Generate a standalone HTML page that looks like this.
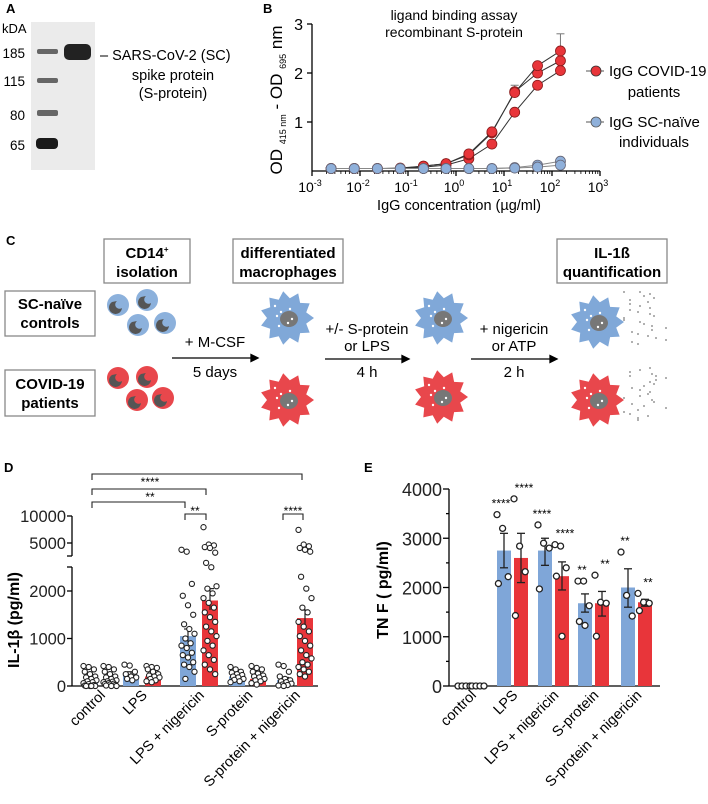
<!DOCTYPE html>
<html><head><meta charset="utf-8"><style>
body{margin:0;background:#fff}
svg{display:block;font-family:"Liberation Sans",Arial,sans-serif}
</style></head><body>
<svg id="fig" width="708" height="804" viewBox="0 0 708 804">
<!-- Panel A -->
<g>
<text x="6" y="13" font-size="13" font-weight="bold">A</text>
<text x="2" y="33" font-size="13">kDA</text>
<rect x="31" y="22" width="64" height="148" fill="#ebebeb"/>
<g fill="#666">
<rect x="37" y="49" width="21" height="5" rx="2"/><rect x="37" y="78" width="21" height="5" rx="2"/>
<rect x="37" y="110" width="21" height="6" rx="2"/><rect x="36" y="138" width="22" height="11" rx="4" fill="#1a1a1a"/>
</g>
<rect x="64" y="44" width="27" height="16" rx="5" fill="#222"/>
<g font-size="13.5" text-anchor="end">
<text x="25" y="58">185</text><text x="25" y="86">115</text><text x="25" y="120">80</text><text x="25" y="150">65</text></g>
<text x="100" y="60" font-size="14.5">– SARS-CoV-2 (SC)</text>
<text x="173" y="80" font-size="14.5" text-anchor="middle">spike protein</text>
<text x="173" y="98" font-size="14.5" text-anchor="middle">(S-protein)</text>
</g>
<g id="panelB">
<text x="263" y="13" font-size="13" font-weight="bold">B</text>
<text x="454" y="20" font-size="14" text-anchor="middle">ligand binding assay</text>
<text x="454" y="37" font-size="14" text-anchor="middle">recombinant S-protein</text>
<text transform="translate(282,100) rotate(-90)" font-size="17" text-anchor="middle">OD <tspan font-size="9" dy="4">415 nm</tspan><tspan dy="-4"> - OD </tspan><tspan font-size="9" dy="4">695</tspan><tspan dy="-4"> nm</tspan></text>
<text x="459" y="210" font-size="14.5" text-anchor="middle">IgG concentration (µg/ml)</text>
<g>
<line x1="586" y1="71" x2="604" y2="71" stroke="#555"/><circle cx="596" cy="71" r="5" fill="#e8353a" stroke="#333" stroke-width="0.8"/>
<text x="609" y="76" font-size="15">IgG COVID-19</text><text x="654" y="97" font-size="15" text-anchor="middle">patients</text>
<line x1="586" y1="122" x2="604" y2="122" stroke="#555"/><circle cx="596" cy="122" r="5" fill="#8fb0da" stroke="#555" stroke-width="0.8"/>
<text x="609" y="127" font-size="15">IgG SC-naïve</text><text x="654" y="147" font-size="15" text-anchor="middle">individuals</text>
</g>
</g>
<!-- Panel C -->
<g id="panelC">
<text x="6" y="245" font-size="13" font-weight="bold">C</text>
<g fill="#fff" stroke="#888" stroke-width="1.3">
<rect x="104" y="239" width="86" height="44"/>
<rect x="233" y="239" width="110" height="44"/>
<rect x="557" y="239" width="110" height="44"/>
<rect x="5" y="291" width="90" height="45"/>
<rect x="5" y="370" width="90" height="46"/>
</g>
<g font-size="15" font-weight="bold" text-anchor="middle">
<text x="147" y="258">CD14<tspan font-size="8" dy="-6">+</tspan></text><text x="147" y="277">isolation</text>
<text x="288" y="258">differentiated</text><text x="288" y="277">macrophages</text>
<text x="612" y="258">IL-1ß</text><text x="612" y="277">quantification</text>
<text x="50" y="309">SC-naïve</text><text x="50" y="328">controls</text>
<text x="50" y="389">COVID-19</text><text x="50" y="408">patients</text>
</g>
<g stroke="#000" stroke-width="1.3" fill="#000">
<line x1="172" y1="358" x2="253" y2="358"/><path d="M258 358l-7 -3.5v7z"/>
<line x1="325" y1="359" x2="404" y2="359"/><path d="M409 359l-7 -3.5v7z"/>
<line x1="471" y1="359" x2="552" y2="359"/><path d="M557 359l-7 -3.5v7z"/>
</g>
<g font-size="15" text-anchor="middle">
<text x="215" y="347">+ M-CSF</text><text x="215" y="377">5 days</text>
<text x="367" y="334">+/- S-protein</text><text x="367" y="351">or LPS</text><text x="367" y="377">4 h</text>
<text x="514" y="334">+ nigericin</text><text x="514" y="351">or ATP</text><text x="514" y="377">2 h</text>
</g>
<g id="cells"></g>
</g>
<!-- Panel D -->
<g id="panelD">
<text x="4" y="472" font-size="13" font-weight="bold">D</text>
<text transform="translate(19,620) rotate(-90)" font-size="16" font-weight="bold" text-anchor="middle">IL-1β (pg/ml)</text>
</g>
<g id="panelE">
<text x="364" y="472" font-size="13" font-weight="bold">E</text>
<text transform="translate(388,590) rotate(-90)" font-size="16" font-weight="bold" text-anchor="middle">TN F ( pg/ml)</text>
</g>
</svg>
<script>
const NS="http://www.w3.org/2000/svg";
function mk(p,t,a){const e=document.createElementNS(NS,t);for(const k in a)e.setAttribute(k,a[k]);p.appendChild(e);return e;}
const BLUE="#7fa6d8",RED="#e8353a";

// ---------- Panel B data ----------
const concB=[0.0025,0.0076,0.023,0.069,0.21,0.62,1.85,5.6,16.7,50,150];
const covid1=[0.05,0.05,0.05,0.06,0.1,0.15,0.35,0.8,1.6,2.15,2.45];
const covid2=[0.05,0.05,0.05,0.05,0.1,0.15,0.33,0.78,1.62,2.0,2.25];
const covid3=[0.05,0.05,0.05,0.05,0.08,0.12,0.25,0.55,1.2,1.75,2.05];
const naive1=[0.05,0.05,0.05,0.05,0.05,0.05,0.05,0.05,0.07,0.12,0.2];
const naive2=[0.05,0.05,0.05,0.05,0.05,0.05,0.05,0.05,0.06,0.08,0.12];
const errTop=[0,0,0,0,0,0,0,0,1.75,2.2,2.8];
const xTicksB=[-3,-2,-1,0,1,2,3];
const yTicksB=[1,2,3];
(function(){
 const g=document.getElementById('panelB');
 const x=v=>312+(Math.log10(v)+3)*48, y=v=>171-v*49;
 const ax=mk(g,'g',{stroke:'#000','stroke-width':1.3});
 
 mk(ax,'line',{x1:312,y1:171,x2:600,y2:171});mk(ax,'line',{x1:312,y1:24,x2:312,y2:171});
 yTicksB.forEach(t=>{mk(ax,'line',{x1:307,y1:y(t),x2:312,y2:y(t)});
  const tx=mk(g,'text',{x:303,y:y(t)+6,'font-size':16,'text-anchor':'end'});tx.textContent=t;
  });
 xTicksB.forEach(t=>{const px=312+(t+3)*48;mk(ax,'line',{x1:px,y1:171,x2:px,y2:176});
  for(let m=2;m<10&&t<3;m++){const q=312+(t+3+Math.log10(m))*48;mk(ax,'line',{x1:q,y1:171,x2:q,y2:174,'stroke-width':0.8});}
  const tx=mk(g,'text',{x:px-2,y:192,'font-size':14,'text-anchor':'middle'});
  tx.innerHTML='10<tspan font-size="9" dy="-6">'+t+'</tspan>';
  });
 const series=[[covid3,RED,'covid-3'],[covid2,RED,'covid-2'],[covid1,RED,'covid-1'],[naive1,BLUE,'naive-1'],[naive2,BLUE,'naive-2']];
 concB.forEach((c,i)=>{if(errTop[i]>0){const l=mk(g,'line',{x1:x(c),x2:x(c),y1:y(errTop[i]),y2:y(covid1[i]),stroke:'#777','stroke-width':1});
   
   mk(g,'line',{x1:x(c)-4,x2:x(c)+4,y1:y(errTop[i]),y2:y(errTop[i]),stroke:'#777'});}});
 series.forEach(([d,col,n])=>{
  const p=mk(g,'polyline',{points:concB.map((c,i)=>x(c)+','+y(d[i])).join(' '),fill:'none',stroke:col==RED?'#333':'#888','stroke-width':1});
  
  d.forEach((v,i)=>{const c=mk(g,'circle',{cx:x(concB[i]),cy:y(v),r:5,fill:col==RED?RED:'#8fb0da',stroke:col==RED?'#8a1a1a':'#667',"stroke-width":0.8});
   });
 });
})();

// ---------- Panel C cells (decorative) ----------
(function(){
 const g=document.getElementById('cells');
 function mono(cx,cy,col){const c=mk(g,'circle',{cx,cy,r:11,fill:col});
  mk(g,'path',{d:`M${cx-6} ${cy-3}a6.5 6.5 0 1 0 10 6a4 4 0 1 1 -5 -7z`,fill:'#555'});}
 [[118,305],[147,300],[138,325],[165,323]].forEach(p=>mono(p[0],p[1],'#8cb1dc'));
 [[118,378],[147,377],[137,400],[163,398]].forEach(p=>mono(p[0],p[1],'#e8474c'));
 function mac(cx,cy,col){let d='';const n=11;for(let i=0;i<2*n;i++){const a=i*Math.PI/n,r=i%2?20:27;d+=(i?'L':'M')+(cx+r*Math.cos(a)).toFixed(1)+' '+(cy+r*Math.sin(a)).toFixed(1);}
  const p=mk(g,'path',{d:d+'Z',fill:col,'stroke-linejoin':'round'});
  mk(g,'ellipse',{cx:cx+2,cy:cy+1,rx:9,ry:8,fill:'#777'});
  for(let i=0;i<7;i++){mk(g,'circle',{cx:cx-12+((i*13)%24),cy:cy-12+((i*17)%24),r:1.2,fill:'#fff'});}}
 [[287,318],[441,318],[597,322]].forEach(p=>mac(p[0],p[1],'#80a8d8'));
 [[287,400],[441,397],[597,400]].forEach(p=>mac(p[0],p[1],'#e8474c'));
 for(let i=0;i<56;i++){mk(g,'circle',{cx:624+((i*137+i*i*7)%46),cy:(i<28?292:368)+((i*59+i*i*3)%54),r:1,fill:'#999'});}
})();

// ---------- Panel D data ----------
const catsD=['control','LPS','LPS + nigericin','S-protein','S-protein + nigericin'];
const barD_blue=[60,230,1050,200,130];
const barD_red=[70,200,1800,150,1430];
const errD_blue=[[20,110],[170,300],[900,1200],[170,240],[80,180]];
const errD_red=[[40,100],[170,240],[1600,2050],[120,190],[1250,1600]];
const ptsD_blue=[
 [420,400,350,300,250,200,180,150,120,100,80,60,40,20,10,0,0,0,0],
 [450,430,300,250,200,180,150,120],
 [4200,4000,2150,1900,1700,1500,1300,1200,1100,1000,900,850,800,700,650,600,500,450,400,300,150],
 [400,350,300,280,250,230,200,180,150,130,100,80],
 [450,420,300,200,150,120,100,80,50,30,20,10,0]];
const ptsD_red=[
 [420,400,350,300,250,200,180,150,120,100,90,80,60,50,40,30,20,10,0,0],
 [420,400,380,350,300,250,220,200,180,150,120,100,80],
 [7500,4800,4700,4500,4400,3900,3000,2500,2100,2050,1950,1850,1750,1650,1550,1450,1350,1250,1150,1050,950,850,750,650,550,450,350,250],
 [420,380,350,300,260,220,200,180,150,120,100,60,30],
 [7000,4800,4600,4400,4200,4000,2300,2050,1850,1650,1550,1350,1250,1150,1050,950,850,750,650,580,500,450,400,350,300,250,200]];
const yTicksD=[0,1000,2000];
const yTicksDUpper=[5000,10000];
(function(){
 const g=document.getElementById('panelD');
 const y=v=>v<=2500?686-v*0.0475:(556-(Math.log10(v)-3.554)*89.7);
 const xb=[90,131,188,237,285],xr=[110,153,210,258,305];
 const ax=mk(g,'g',{stroke:'#000','stroke-width':1.3});
 
 mk(ax,'line',{x1:72,y1:686,x2:318,y2:686});mk(ax,'line',{x1:72,y1:567,x2:72,y2:686});mk(ax,'line',{x1:72,y1:516,x2:72,y2:556});
 mk(ax,'line',{x1:67,y1:556,x2:72,y2:556});mk(ax,'line',{x1:67,y1:567,x2:72,y2:567});
 yTicksD.concat(yTicksDUpper).forEach(t=>{mk(ax,'line',{x1:67,y1:y(t),x2:72,y2:y(t)});
  const tx=mk(g,'text',{x:66,y:y(t)+6,'font-size':16.5,'text-anchor':'end',fill:'#222'});tx.textContent=t;
  });
 function bars(vals,errs,pts,xs,col,n){vals.forEach((v,i)=>{
  const r=mk(g,'rect',{x:xs[i]-8,y:y(v),width:16,height:686-y(v),fill:col});
  
  const e=errs[i];mk(g,'line',{x1:xs[i],x2:xs[i],y1:y(e[1]),y2:y(e[0]),stroke:'#222','stroke-width':1.2});
  mk(g,'line',{x1:xs[i]-4,x2:xs[i]+4,y1:y(e[1]),y2:y(e[1]),stroke:'#222','stroke-width':1.2});
  pts[i].forEach((p,j)=>{const c=mk(g,'circle',{cx:xs[i]+((j*37)%11-5)*1.3,cy:y(p),r:2.6,fill:'#fff',stroke:'#222','stroke-width':1.1});
   });});}
 bars(barD_blue,errD_blue,ptsD_blue,xb,BLUE,'naive');
 bars(barD_red,errD_red,ptsD_red,xr,RED,'covid');
 catsD.forEach((c,i)=>{const tx=mk(g,'text',{transform:`translate(${(xb[i]+xr[i])/2+6},696) rotate(-45)`,'font-size':14.5,'text-anchor':'end'});tx.textContent=c;
  });
 const br=[[92,302,474],[92,206,489],[92,185,502],[185,206,514],[283,303,514]];
 const labs=[[150,482,'****'],[150,497,'**'],[195,511,'**'],[293,511,'****']];
 br.forEach(b=>{const p=mk(g,'path',{d:`M${b[0]} ${b[2]+6}V${b[2]}H${b[1]}V${b[2]+6}`,fill:'none',stroke:'#222','stroke-width':1.1});
  });
 labs.forEach(l=>{const t=mk(g,'text',{x:l[0],y:l[1]+4,'font-size':12,'text-anchor':'middle'});t.textContent=l[2];});
})();

// ---------- Panel E data ----------
const catsE=['control','LPS','LPS + nigericin','S-protein','S-protein + nigericin'];
const barE_blue=[0,2750,2750,1680,2000];
const barE_red=[0,2600,2230,1680,1700];
const errE_blue=[[0,0],[2400,3100],[2450,3000],[1500,1870],[1600,2380]];
const errE_red=[[0,0],[2100,3100],[1950,2520],[1420,1920],[1620,1760]];
const ptsE_blue=[[0,0,0,0],[3480,3200,2220,2080],[3270,2900,2800,1970],[2130,2130,1630,1310,1230],[2720,1840,1420]];
const ptsE_red=[[0,0,0,0],[3800,2840,2320,1430],[2870,2840,2400,2230,1010],[2250,1700,1680,1010],[1880,1700,1680,1530]];
const starsE_blue=['','****','****','**','**'];
const starsE_red=['','****','****','**','**'];
const yTicksE=[0,1000,2000,3000,4000];
(function(){
 const g=document.getElementById('panelE');
 const y=v=>686-v*0.04925;
 const xb=[464,504,545,585,628],xr=[478,521,562,602,645];
 const ax=mk(g,'g',{stroke:'#000','stroke-width':1.3});
 
 mk(ax,'line',{x1:449,y1:686,x2:660,y2:686});mk(ax,'line',{x1:449,y1:489,x2:449,y2:686});
 yTicksE.forEach(t=>{mk(ax,'line',{x1:443,y1:y(t),x2:449,y2:y(t)});if(t<4000)mk(ax,'line',{x1:446,y1:y(t+500),x2:449,y2:y(t+500)});
  const tx=mk(g,'text',{x:442,y:y(t)+7,'font-size':18,'text-anchor':'end',fill:'#222'});tx.textContent=t;
  });
 function bars(vals,errs,pts,stars,xs,col,n){vals.forEach((v,i)=>{
  if(v>0){const r=mk(g,'rect',{x:xs[i]-7,y:y(v),width:14,height:686-y(v),fill:col});
   
   const e=errs[i];mk(g,'line',{x1:xs[i],x2:xs[i],y1:y(e[1]),y2:y(e[0]),stroke:'#222','stroke-width':1.3});
   [e[0],e[1]].forEach(q=>mk(g,'line',{x1:xs[i]-4,x2:xs[i]+4,y1:y(q),y2:y(q),stroke:'#222','stroke-width':1.3}));}
  const mx=Math.max(...pts[i],errs[i][1]);
  if(stars[i]){const t=mk(g,'text',{x:xs[i]-(n=='naive'?3:-3),y:y(mx)-7,'font-size':12,'text-anchor':'middle'});t.textContent=stars[i];}
  pts[i].forEach((p,j)=>{const off=v>0?((j*37)%11-5)*1.4:(j-1.5)*4;
   const c=mk(g,'circle',{cx:xs[i]+off,cy:y(p),r:3,fill:'#fff',stroke:'#222','stroke-width':1.3});
   });});}
 bars(barE_blue,errE_blue,ptsE_blue,starsE_blue,xb,BLUE,'naive');
 bars(barE_red,errE_red,ptsE_red,starsE_red,xr,RED,'covid');
 catsE.forEach((c,i)=>{const tx=mk(g,'text',{transform:`translate(${(xb[i]+xr[i])/2+6},696) rotate(-45)`,'font-size':14.5,'text-anchor':'end'});tx.textContent=c;
  });
})();
</script>
</body></html>
